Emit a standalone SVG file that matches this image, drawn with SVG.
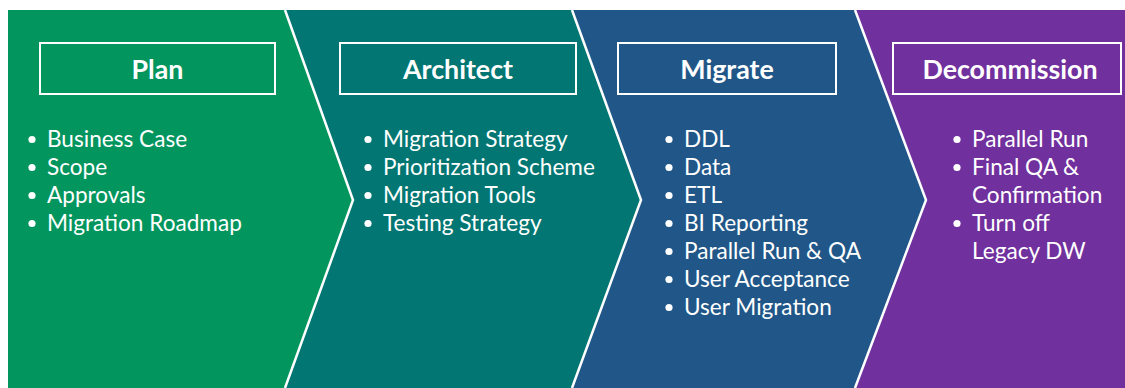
<svg xmlns="http://www.w3.org/2000/svg" width="1125" height="388" viewBox="0 0 1125 388">
  <style>
    .title { font-family: Lato, "Open Sans", sans-serif; font-weight: 700; font-size: 26.8px; fill: #ffffff; text-anchor: middle; }
    .item { font-family: Lato, "Open Sans", sans-serif; font-size: 22.6px; fill: #ffffff; }
    .box { fill: none; stroke: #ffffff; stroke-width: 2; }
    .sep { fill: none; stroke: #ffffff; stroke-width: 2.5; }
    .dot { fill: #ffffff; }
  </style>
  <rect x="0" y="0" width="1125" height="388" fill="#ffffff"/>

  <!-- Phase bands -->
  <g id="plan">
    <polygon points="8,10 285,10 353,200 285,388 8,388" fill="#03955e"/>
    <rect class="box" x="40" y="43" width="235" height="51"/>
    <text class="title" x="157.5" y="78.5">Plan</text>
    <g class="item">
      <circle class="dot" cx="32" cy="139.5" r="3.6"/>
      <text x="47" y="146.5">Business Case</text>
      <circle class="dot" cx="32" cy="167.5" r="3.6"/>
      <text x="47" y="174.5">Scope</text>
      <circle class="dot" cx="32" cy="195.5" r="3.6"/>
      <text x="47" y="202.5">Approvals</text>
      <circle class="dot" cx="32" cy="223.5" r="3.6"/>
      <text x="47" y="230.5">Migration Roadmap</text>
    </g>
  </g>

  <g id="architect">
    <polygon points="285,10 572,10 641,200 572,388 285,388 353,200" fill="#027672"/>
    <rect class="box" x="340" y="43" width="236" height="51"/>
    <text class="title" x="458" y="78.5">Architect</text>
    <g class="item">
      <circle class="dot" cx="368" cy="139.5" r="3.6"/>
      <text x="383" y="146.5">Migration Strategy</text>
      <circle class="dot" cx="368" cy="167.5" r="3.6"/>
      <text x="383" y="174.5">Prioritization Scheme</text>
      <circle class="dot" cx="368" cy="195.5" r="3.6"/>
      <text x="383" y="202.5">Migration Tools</text>
      <circle class="dot" cx="368" cy="223.5" r="3.6"/>
      <text x="383" y="230.5">Testing Strategy</text>
    </g>
  </g>

  <g id="migrate">
    <polygon points="572,10 855,10 926,200 855,388 572,388 641,200" fill="#215788"/>
    <rect class="box" x="618" y="43" width="218" height="51"/>
    <text class="title" x="727" y="78.5">Migrate</text>
    <g class="item">
      <circle class="dot" cx="669" cy="139.5" r="3.6"/>
      <text x="684" y="146.5">DDL</text>
      <circle class="dot" cx="669" cy="167.5" r="3.6"/>
      <text x="684" y="174.5">Data</text>
      <circle class="dot" cx="669" cy="195.5" r="3.6"/>
      <text x="684" y="202.5">ETL</text>
      <circle class="dot" cx="669" cy="223.5" r="3.6"/>
      <text x="684" y="230.5">BI Reporting</text>
      <circle class="dot" cx="669" cy="251.5" r="3.6"/>
      <text x="684" y="258.5">Parallel Run &amp; QA</text>
      <circle class="dot" cx="669" cy="279.5" r="3.6"/>
      <text x="684" y="286.5">User Acceptance</text>
      <circle class="dot" cx="669" cy="307.5" r="3.6"/>
      <text x="684" y="314.5">User Migration</text>
    </g>
  </g>

  <g id="decommission">
    <polygon points="855,10 1125,10 1125,388 855,388 926,200" fill="#70309d"/>
    <rect class="box" x="893" y="43" width="228" height="51"/>
    <text class="title" x="1010" y="78.5">Decommission</text>
    <g class="item">
      <circle class="dot" cx="957" cy="139.5" r="3.6"/>
      <text x="972" y="146.5">Parallel Run</text>
      <circle class="dot" cx="957" cy="167.5" r="3.6"/>
      <text x="972" y="174.5">Final QA &amp;</text>
      <text x="972" y="202.5">Confirmation</text>
      <circle class="dot" cx="957" cy="223.5" r="3.6"/>
      <text x="972" y="230.5">Turn off</text>
      <text x="972" y="258.5">Legacy DW</text>
    </g>
  </g>

  <!-- Chevron separators -->
  <g id="connectors">
    <polyline class="sep" points="285,10 353,200 285,388"/>
    <polyline class="sep" points="572,10 641,200 572,388"/>
    <polyline class="sep" points="855,10 926,200 855,388"/>
  </g>
</svg>
